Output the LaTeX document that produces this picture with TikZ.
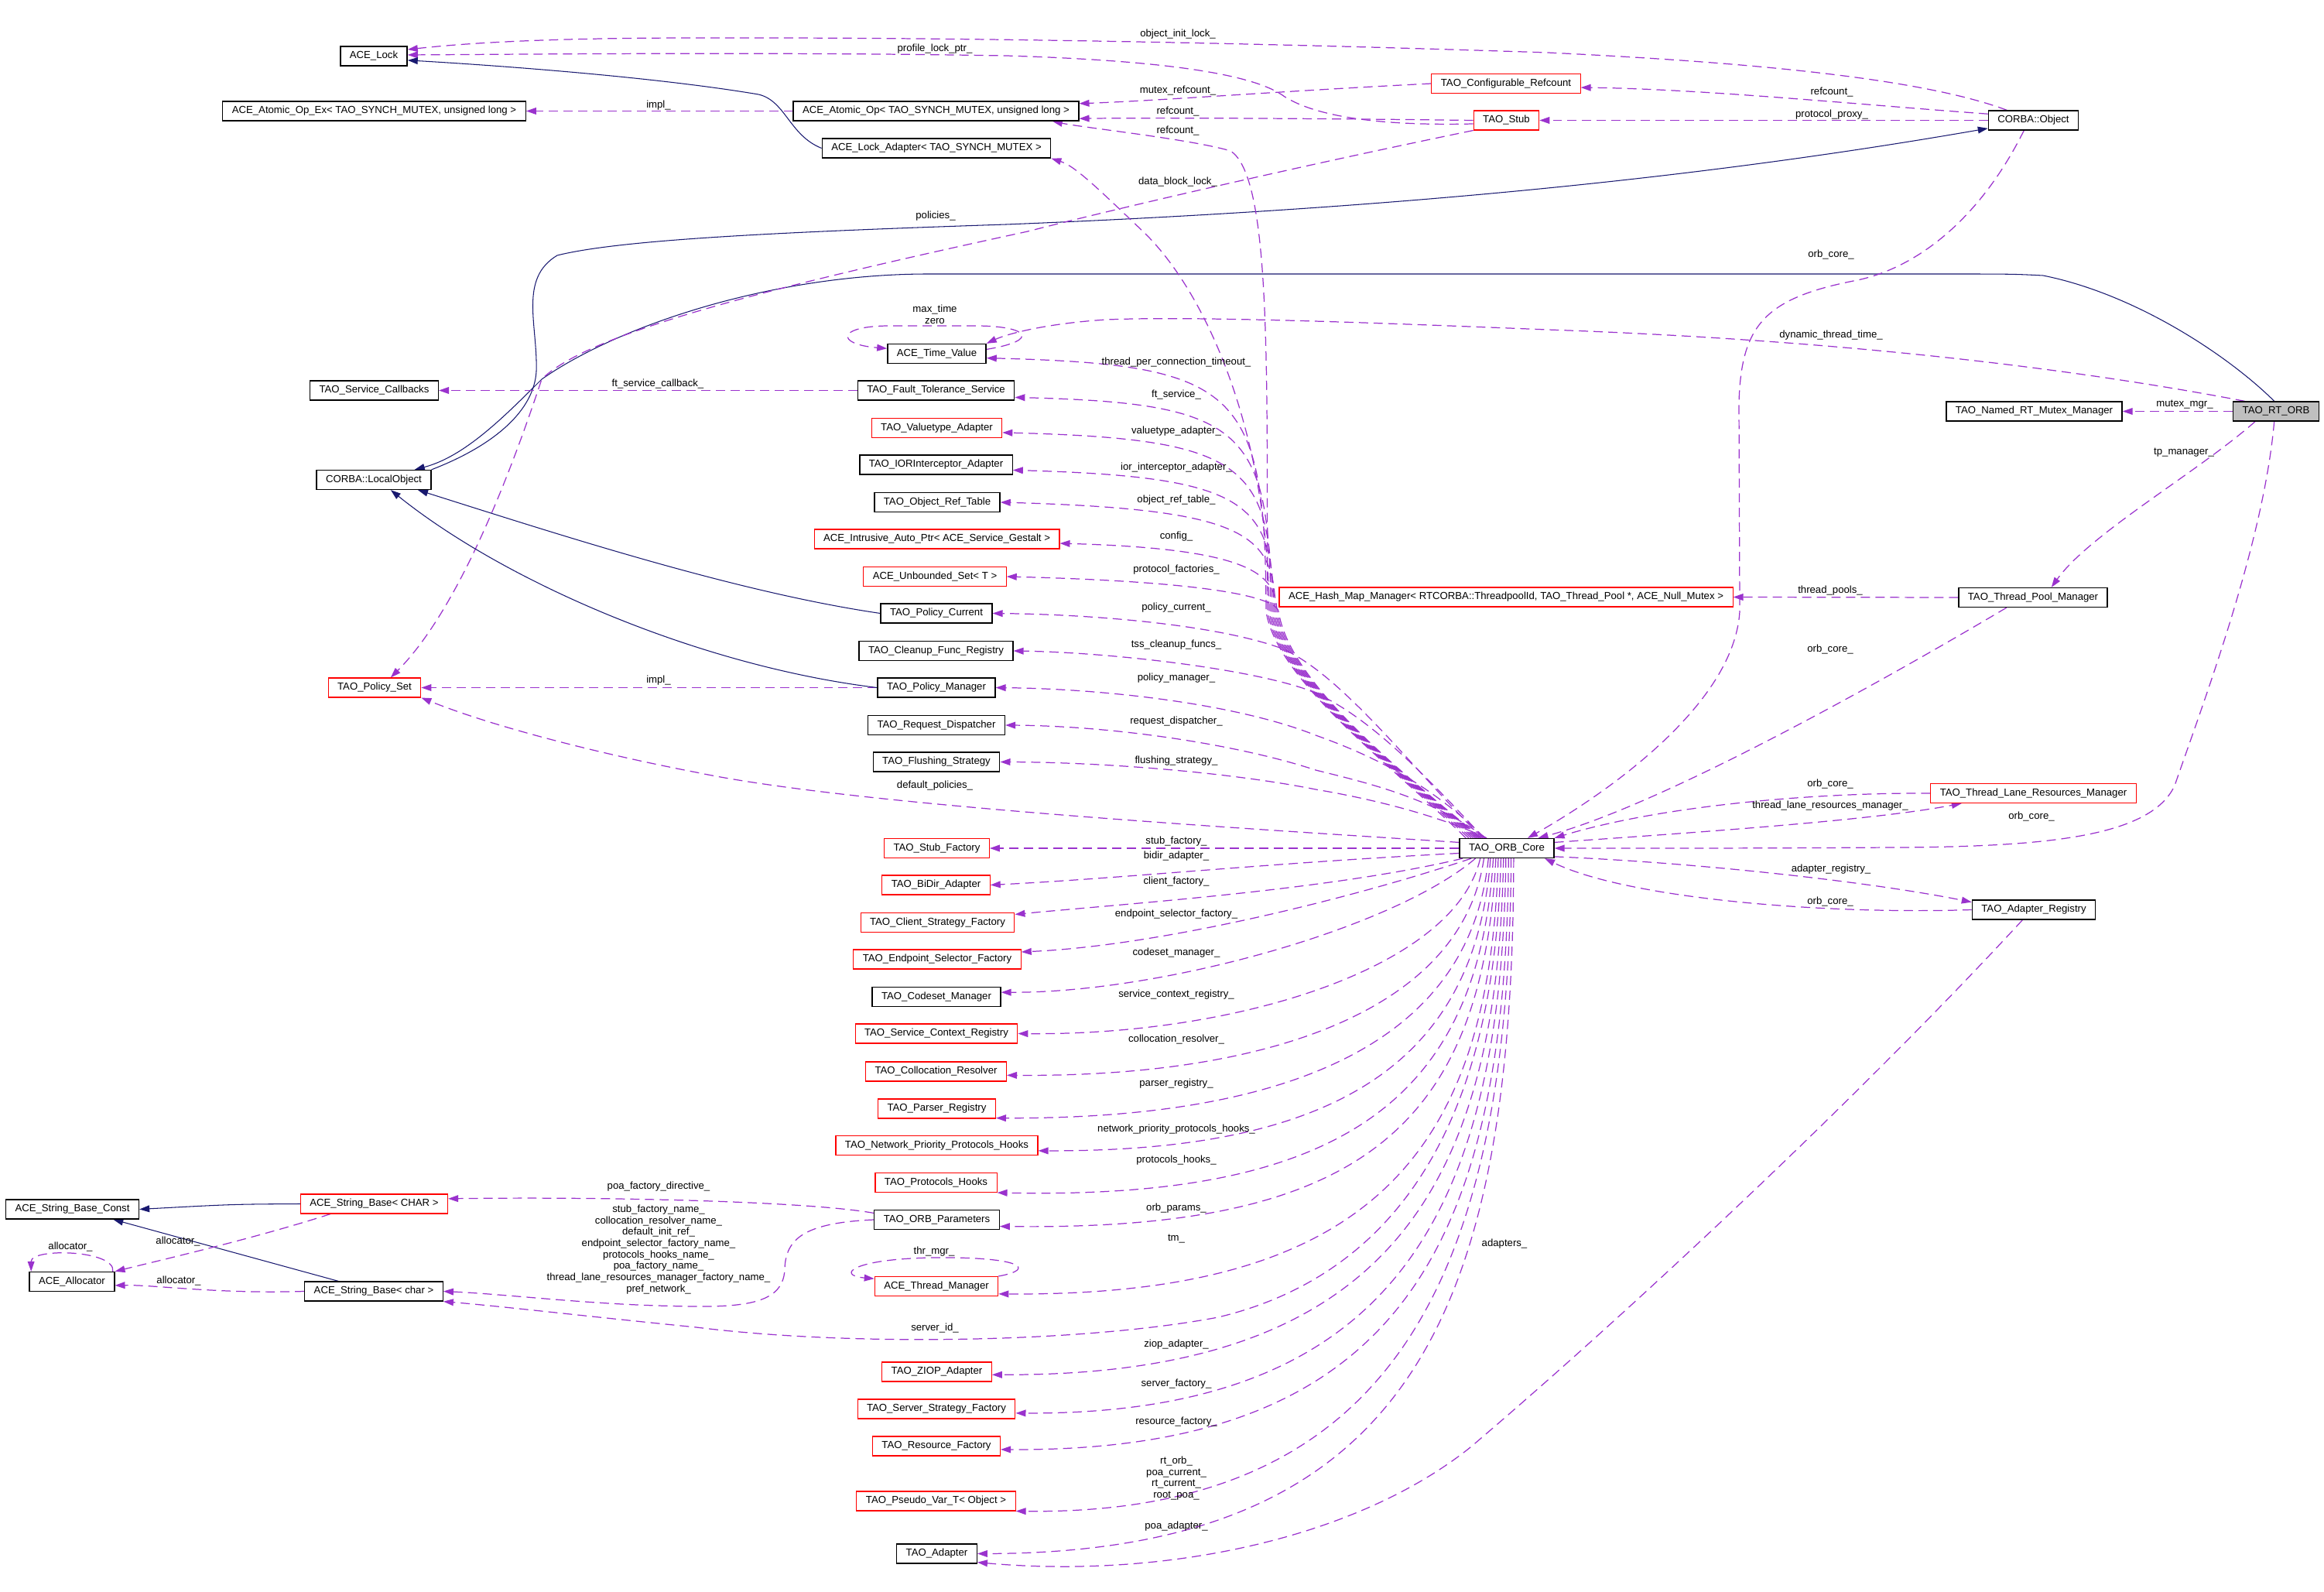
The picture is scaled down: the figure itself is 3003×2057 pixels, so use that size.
\documentclass[tikz,border=0pt]{standalone}
\usepackage{fontspec}
\setmainfont{Liberation Sans}
\usepackage{tikz}
\usetikzlibrary{arrows.meta, backgrounds}

\definecolor{usecol}{HTML}{9A32CD}
\definecolor{inhcol}{HTML}{191970}
\definecolor{undoc}{HTML}{FF0000}
\definecolor{rootgray}{HTML}{BFBFBF}

\tikzset{
  cls/.style={draw=black, line width=0.75pt, fill=white, minimum height=0.5cm, inner xsep=0.24cm, inner ysep=0pt, font=\fontsize{7.5}{8.35}\selectfont},
  ucls/.style={cls, draw=undoc, line width=0.6pt},
  lbl/.style={inner sep=0pt, align=center, font=\fontsize{7.5}{8.35}\selectfont},
  memb/.style={draw=usecol, line width=0.7pt, dash pattern=on 6.8pt off 4pt, -{Triangle[length=7.4pt, width=5pt]}},
  inh/.style={draw=inhcol, line width=0.6pt, -{Triangle[length=7.4pt, width=5pt]}},
}

\begin{document}
\begin{tikzpicture}[x=0.02cm, y=-0.02cm]
\useasboundingbox (0,0) rectangle (3003,2057);

% classes, top part
\node[cls] (lock) at (483,72.5) {ACE\_Lock};
\node[cls] (atomex) at (483.5,143.5) {ACE\_Atomic\_Op\_Ex< TAO\_SYNCH\_MUTEX, unsigned long >};
\node[cls] (atom) at (1209.5,143.5) {ACE\_Atomic\_Op< TAO\_SYNCH\_MUTEX, unsigned long >};
\node[cls] (lockad) at (1210,191.5) {ACE\_Lock\_Adapter< TAO\_SYNCH\_MUTEX >};
\node[ucls] (cfgref) at (1946,108) {TAO\_Configurable\_Refcount};
\node[ucls] (stub) at (1946.5,155.5) {TAO\_Stub};
\node[cls] (cobj) at (2627.5,155.5) {CORBA::Object};
\node[cls, fill=rootgray] (rtorb) at (2941,531.5) {TAO\_RT\_ORB};
\node[cls] (namedmx) at (2628.5,531.5) {TAO\_Named\_RT\_Mutex\_Manager};

% middle column, above the core
\node[cls] (timev) at (1210.5,457) {ACE\_Time\_Value};
\node[cls] (svccb) at (483.5,504.5) {TAO\_Service\_Callbacks};
\node[cls] (ftsvc) at (1209.5,504.5) {TAO\_Fault\_Tolerance\_Service};
\node[ucls] (valtype) at (1210.5,553) {TAO\_Valuetype\_Adapter};
\node[cls] (iorint) at (1209.5,600.5) {TAO\_IORInterceptor\_Adapter};
\node[cls] (lobj) at (483,620) {CORBA::LocalObject};
\node[cls] (objref) at (1211,649) {TAO\_Object\_Ref\_Table};
\node[ucls] (autoptr) at (1210.5,696.5) {ACE\_Intrusive\_Auto\_Ptr< ACE\_Service\_Gestalt >};
\node[ucls] (unbset) at (1208,745) {ACE\_Unbounded\_Set< T >};
\node[cls] (polcur) at (1210,792.5) {TAO\_Policy\_Current};
\node[cls] (cleanup) at (1209.5,841) {TAO\_Cleanup\_Func\_Registry};
\node[ucls] (polset) at (484,888.5) {TAO\_Policy\_Set};
\node[cls] (polmgr) at (1210,888.5) {TAO\_Policy\_Manager};
\node[cls] (reqdisp) at (1210,937) {TAO\_Request\_Dispatcher};
\node[cls] (flush) at (1210,984.5) {TAO\_Flushing\_Strategy};

% right side
\node[ucls] (hashmap) at (1946,771.5) {ACE\_Hash\_Map\_Manager< RTCORBA::ThreadpoolId, TAO\_Thread\_Pool *, ACE\_Null\_Mutex >};
\node[cls] (tpmgr) at (2627,772) {TAO\_Thread\_Pool\_Manager};
\node[ucls] (tlrm) at (2627.5,1025) {TAO\_Thread\_Lane\_Resources\_Manager};
\node[cls] (core) at (1947,1096) {TAO\_ORB\_Core};
\node[cls] (adreg) at (2628,1175.5) {TAO\_Adapter\_Registry};

% middle column, below the core
\node[ucls] (stubf) at (1210.5,1096) {TAO\_Stub\_Factory};
\node[ucls] (bidir) at (1209.5,1143.5) {TAO\_BiDir\_Adapter};
\node[ucls] (clistr) at (1211.5,1192) {TAO\_Client\_Strategy\_Factory};
\node[ucls] (endsel) at (1211,1239.5) {TAO\_Endpoint\_Selector\_Factory};
\node[cls] (codeset) at (1210,1288) {TAO\_Codeset\_Manager};
\node[ucls] (svcctx) at (1210,1335.5) {TAO\_Service\_Context\_Registry};
\node[ucls] (colloc) at (1209.5,1384.5) {TAO\_Collocation\_Resolver};
\node[ucls] (parser) at (1210.5,1432.5) {TAO\_Parser\_Registry};
\node[ucls] (netprio) at (1210.5,1480) {TAO\_Network\_Priority\_Protocols\_Hooks};
\node[ucls] (prothk) at (1209.5,1528) {TAO\_Protocols\_Hooks};
\node[cls] (orbpar) at (1210.5,1576) {TAO\_ORB\_Parameters};
\node[ucls] (thrmgr) at (1210,1662) {ACE\_Thread\_Manager};
\node[ucls] (ziop) at (1210.5,1772.5) {TAO\_ZIOP\_Adapter};
\node[ucls] (srvstr) at (1210,1820.5) {TAO\_Server\_Strategy\_Factory};
\node[ucls] (resfac) at (1210,1868.5) {TAO\_Resource\_Factory};
\node[ucls] (pseudo) at (1209.5,1939.5) {TAO\_Pseudo\_Var\_T< Object >};
\node[cls] (adapter) at (1210.5,2007.5) {TAO\_Adapter};

% strings, bottom left
\node[cls] (strconst) at (93.5,1562.5) {ACE\_String\_Base\_Const};
\node[ucls] (strtpl) at (483.5,1555.5) {ACE\_String\_Base< CHAR >};
\node[cls] (alloc) at (93,1656) {ACE\_Allocator};
\node[cls] (strchr) at (483,1668.5) {ACE\_String\_Base< char >};

% edge labels
\node[lbl] (l-oil) at (1522,44) {object\_init\_lock\_};
\node[lbl] (l-plp) at (1208,63) {profile\_lock\_ptr\_};
\node[lbl] (l-mrc) at (1522,117) {mutex\_refcount\_};
\node[lbl] (l-rcobj) at (2367,119) {refcount\_};
\node[lbl] (l-rcstub) at (1522,144) {refcount\_};
\node[lbl] (l-pp) at (2367,148) {protocol\_proxy\_};
\node[lbl] (l-impla) at (851,136) {impl\_};
\node[lbl] (l-rccore) at (1522,169) {refcount\_};
\node[lbl] (l-dbl) at (1522,235) {data\_block\_lock\_};
\node[lbl] (l-pol) at (1209,279) {policies\_};
\node[lbl] (l-ocobj) at (2366,329) {orb\_core\_};
\node[lbl] (l-mtz) at (1208,406) {max\_time\\zero};
\node[lbl] (l-dtt) at (2366,433) {dynamic\_thread\_time\_};
\node[lbl] (l-tpct) at (1520,468) {thread\_per\_connection\_timeout\_};
\node[lbl] (l-fsc) at (850,496) {ft\_service\_callback\_};
\node[lbl] (l-fs) at (1520,510) {ft\_service\_};
\node[lbl] (l-mm) at (2823,523) {mutex\_mgr\_};
\node[lbl] (l-va) at (1520,557) {valuetype\_adapter\_};
\node[lbl] (l-tpm) at (2822,585) {tp\_manager\_};
\node[lbl] (l-iia) at (1520,604) {ior\_interceptor\_adapter\_};
\node[lbl] (l-ort) at (1520,646) {object\_ref\_table\_};
\node[lbl] (l-cfg) at (1520,693) {config\_};
\node[lbl] (l-pf) at (1520,736) {protocol\_factories\_};
\node[lbl] (l-tp) at (2365,763) {thread\_pools\_};
\node[lbl] (l-pc) at (1520,785) {policy\_current\_};
\node[lbl] (l-tcf) at (1520,833) {tss\_cleanup\_funcs\_};
\node[lbl] (l-octpm) at (2365,839) {orb\_core\_};
\node[lbl] (l-pm) at (1520,876) {policy\_manager\_};
\node[lbl] (l-implb) at (851,879) {impl\_};
\node[lbl] (l-rd) at (1520,932) {request\_dispatcher\_};
\node[lbl] (l-fls) at (1520,983) {flushing\_strategy\_};
\node[lbl] (l-dp) at (1208,1015) {default\_policies\_};
\node[lbl] (l-octlrm) at (2365,1013) {orb\_core\_};
\node[lbl] (l-tlrm) at (2365,1041) {thread\_lane\_resources\_manager\_};
\node[lbl] (l-ocrt) at (2625,1055) {orb\_core\_};
\node[lbl] (l-sf) at (1520,1087) {stub\_factory\_};
\node[lbl] (l-ba) at (1520,1106) {bidir\_adapter\_};
\node[lbl] (l-ar) at (2366,1123) {adapter\_registry\_};
\node[lbl] (l-cf) at (1520,1139) {client\_factory\_};
\node[lbl] (l-ocreg) at (2365,1165) {orb\_core\_};
\node[lbl] (l-esf) at (1520,1181) {endpoint\_selector\_factory\_};
\node[lbl] (l-cm) at (1520,1231) {codeset\_manager\_};
\node[lbl] (l-scr) at (1520,1285) {service\_context\_registry\_};
\node[lbl] (l-cr) at (1520,1343) {collocation\_resolver\_};
\node[lbl] (l-pr) at (1520,1400) {parser\_registry\_};
\node[lbl] (l-nph) at (1520,1459) {network\_priority\_protocols\_hooks\_};
\node[lbl] (l-ph) at (1520,1499) {protocols\_hooks\_};
\node[lbl] (l-pfd) at (851,1533) {poa\_factory\_directive\_};
\node[lbl] (l-op) at (1520,1561) {orb\_params\_};
\node[lbl] (l-names) at (851,1614.5) {stub\_factory\_name\_\\collocation\_resolver\_name\_\\default\_init\_ref\_\\endpoint\_selector\_factory\_name\_\\protocols\_hooks\_name\_\\poa\_factory\_name\_\\thread\_lane\_resources\_manager\_factory\_name\_\\pref\_network\_};
\node[lbl] (l-alt) at (230,1604) {allocator\_};
\node[lbl] (l-alo) at (91,1611) {allocator\_};
\node[lbl] (l-alc) at (231,1655) {allocator\_};
\node[lbl] (l-tm) at (1520,1601) {tm\_};
\node[lbl] (l-thr) at (1207,1617) {thr\_mgr\_};
\node[lbl] (l-ad) at (1944,1607) {adapters\_};
\node[lbl] (l-sid) at (1208,1716) {server\_id\_};
\node[lbl] (l-za) at (1520,1737) {ziop\_adapter\_};
\node[lbl] (l-sfy) at (1520,1788) {server\_factory\_};
\node[lbl] (l-rf) at (1520,1837) {resource\_factory\_};
\node[lbl] (l-ro) at (1520,1910) {rt\_orb\_\\poa\_current\_\\rt\_current\_\\root\_poa\_};
\node[lbl] (l-pa) at (1520,1972) {poa\_adapter\_};

\begin{scope}[on background layer]
% top
\draw[memb] (cobj.159) .. controls (2480,100) and (2250,80) .. (2000,68) .. controls (1700,58) and (1300,48) .. (900,49) .. controls (700,49) and (600,56) .. (lock.11);
\draw[memb] (stub.186) .. controls (1780,163) and (1700,150) .. (1660,125) .. controls (1620,95) and (1500,78) .. (1300,72) .. controls (1000,67) and (700,70) .. (lock.2);
\draw[memb] (cobj.172) .. controls (2400,135) and (2200,115) .. (cfgref.-3);
\draw[memb] (cobj.west) -- (stub.east);
\draw[memb] (cfgref.west) .. controls (1650,118) and (1500,130) .. (atom.3);
\draw[memb] (stub.west) .. controls (1700,153) and (1500,152) .. (atom.-3);
\draw[memb] (atom.west) -- (atomex.east);
\draw[inh] (lockad.west) .. controls (1020,175) and (1015,130) .. (980,122) .. controls (850,100) and (650,85) .. (lock.-7);
\draw[inh] (lobj.10) .. controls (640,575) and (690,530) .. (693,480) .. controls (695,420) and (670,360) .. (720,330) .. controls (800,310) and (1000,300) .. (1300,290) .. controls (1800,270) and (2200,230) .. (cobj.190);
\draw[inh] (rtorb.100) .. controls (2880,460) and (2760,380) .. (2640,356) .. controls (2600,354) .. (2500,354) -- (1200,354) .. controls (1000,354) and (800,420) .. (700,490) .. controls (650,540) and (600,590) .. (lobj.14);
\draw[memb] (stub.south west) .. controls (1750,200) and (1500,255) .. (1328,299) .. controls (1000,370) and (760,430) .. (700,490) .. controls (670,580) and (600,780) .. (polset.32);

% rt orb
\draw[memb] (rtorb.west) -- (namedmx.east);
\draw[memb] (rtorb.206) .. controls (2840,610) and (2700,690) .. (tpmgr.29);
\draw[memb] (rtorb.162) .. controls (2700,480) and (2400,440) .. (2000,426) .. controls (1800,418) and (1550,408) .. (1430,413) .. controls (1350,418) and (1300,432) .. (timev.north east);
\draw[memb] (rtorb.-100) .. controls (2925,700) and (2850,900) .. (2810,1015) .. controls (2780,1080) and (2650,1094) .. (2450,1095) .. controls (2250,1096) .. (core.east);
\draw[memb] (cobj.227) .. controls (2560,280) and (2480,345) .. (2400,362) .. controls (2280,385) and (2250,420) .. (2247,520) -- (2248,790) .. controls (2240,920) and (2050,1040) .. (core.26);

% right side
\draw[memb] (tpmgr.west) -- (hashmap.east);
\draw[memb] (tpmgr.201) .. controls (2450,870) and (2150,1040) .. (core.18);
\draw[memb] (tlrm.west) .. controls (2350,1024) and (2150,1040) .. (core.north east);
\draw[memb] (core.7) .. controls (2200,1075) and (2420,1060) .. (tlrm.188);
\draw[memb] (core.-10) .. controls (2200,1115) and (2420,1140) .. (adreg.173);
\draw[memb] (adreg.west) .. controls (2350,1182) and (2100,1160) .. (core.-15);
\draw[memb] (adreg.222) .. controls (2400,1420) and (2100,1700) .. (1900,1870) .. controls (1750,1990) and (1500,2040) .. (adapter.-12);

% core, upwards
\draw[memb] (core.166) .. controls (1800,990) and (1650,880) .. (1636,790) .. controls (1635,503) and (1601,471) .. (timev.-5);
\draw[memb] (core.165) .. controls (1800,990) and (1652,880) .. (1638,790) .. controls (1636,500) and (1645,230) .. (1590,195) .. controls (1540,180) and (1400,165) .. (atom.-5);
\draw[memb] (core.164) .. controls (1800,990) and (1654,880) .. (1640,790) .. controls (1638,560) and (1560,380) .. (1478,300) .. controls (1420,245) and (1390,215) .. (lockad.south east);
\draw[memb] (core.163) .. controls (1800,990) and (1656,880) .. (1642,790) .. controls (1641,553) and (1607,521) .. (ftsvc.-5);
\draw[memb] (core.162) .. controls (1800,990) and (1658,880) .. (1644,790) .. controls (1643,599) and (1609,567) .. (valtype.-4);
\draw[memb] (core.161) .. controls (1800,990) and (1660,880) .. (1646,790) .. controls (1645,648) and (1611,616) .. (iorint.-4);
\draw[memb] (core.160) .. controls (1800,990) and (1662,880) .. (1648,790) .. controls (1647,690) and (1613,658) .. (objref.east);
\draw[memb] (core.159) .. controls (1800,990) and (1664,880) .. (1650,790) .. controls (1649,741) and (1615,709) .. (autoptr.-2);
\draw[memb] (core.158) .. controls (1800,990) and (1666,880) .. (1652,790) .. controls (1651,780) and (1617,753) .. (unbset.east);
\draw[memb] (core.157) .. controls (1830,1000) and (1730,865) .. (1651,836) .. controls (1570,808) and (1420,794) .. (polcur.east);
\draw[memb] (core.156) .. controls (1840,1000) and (1760,915) .. (1683,889) .. controls (1600,862) and (1430,843) .. (cleanup.east);
\draw[memb] (core.155) .. controls (1845,1010) and (1770,975) .. (1700,950) .. controls (1600,910) and (1430,890) .. (polmgr.east);
\draw[memb] (core.154) .. controls (1850,1030) and (1760,1010) .. (1700,995) .. controls (1600,962) and (1440,938) .. (reqdisp.east);
\draw[memb] (core.153) .. controls (1850,1050) and (1760,1030) .. (1700,1020) .. controls (1600,1000) and (1440,985) .. (flush.east);
\draw[memb] (core.173) .. controls (1600,1070) and (1100,1040) .. (900,998) .. controls (780,975) and (640,940) .. (polset.south east);

% core, downwards
\draw[memb] (core.west) -- (stubf.east);
\draw[memb] (core.186) .. controls (1640,1115) and (1450,1135) .. (bidir.east);
\draw[memb] (core.193) .. controls (1720,1150) and (1450,1168) .. (clistr.6);
\draw[memb] (core.196) .. controls (1750,1160) and (1500,1222) .. (endsel.5);
\draw[memb] (core.198) .. controls (1800,1200) and (1500,1283) .. (codeset.4);
\draw[memb] (core.201) .. controls (1880,1250) and (1600,1338) .. (svcctx.east);
\draw[memb] (core.204) .. controls (1890,1300) and (1650,1392) .. (colloc.-3);
\draw[memb] (core.209) .. controls (1900,1340) and (1680,1446) .. (parser.-9);
\draw[memb] (core.212) .. controls (1905,1390) and (1700,1488) .. (netprio.-3);
\draw[memb] (core.217) .. controls (1910,1430) and (1720,1550) .. (prothk.south east);
\draw[memb] (core.223) .. controls (1915,1470) and (1740,1590) .. (orbpar.-6);
\draw[memb] (core.230) .. controls (1925,1500) and (1760,1675) .. (thrmgr.-7);
\draw[memb] (core.240) .. controls (1930,1520) and (1750,1660) .. (1574,1702) .. controls (1400,1735) and (1100,1740) .. (900,1715) .. controls (750,1700) and (650,1688) .. (strchr.south east);
\draw[memb] (core.252) .. controls (1935,1550) and (1780,1778) .. (ziop.-3);
\draw[memb] (core.265) .. controls (1940,1580) and (1790,1828) .. (srvstr.-3);
\draw[memb] (core.280) .. controls (1945,1620) and (1800,1876) .. (resfac.-3);
\draw[memb] (core.293) .. controls (1950,1650) and (1800,1958) .. (pseudo.south east);
\draw[memb] (core.304) .. controls (1955,1700) and (1820,2006) .. (adapter.east);

% left side
\draw[memb] (ftsvc.west) -- (svccb.east);
\draw[memb] (polmgr.west) -- (polset.east);
\draw[inh] (polcur.west) .. controls (950,765) and (720,690) .. (lobj.-13);
\draw[inh] (polmgr.west) .. controls (900,860) and (650,750) .. (lobj.-31);
\draw[memb] (timev.5) .. controls (1345,440) and (1330,421) .. (1260,421) -- (1150,421) .. controls (1080,421) and (1080,445) .. (timev.174);
\draw[memb] (thrmgr.north east) .. controls (1340,1640) and (1320,1624) .. (1210,1625) .. controls (1100,1626) and (1080,1648) .. (thrmgr.173);
\draw[memb] (orbpar.174) .. controls (1050,1553) and (800,1546) .. (strtpl.4);
\draw[memb] (orbpar.west) .. controls (1040,1580) and (1015,1600) .. (1014,1640) .. controls (1012,1690) and (950,1690) .. (850,1687) .. controls (750,1684) and (650,1672) .. (strchr.east);

% strings
\draw[inh] (strtpl.west) .. controls (300,1556) .. (strconst.east);
\draw[inh] (strchr.164) -- (strconst.-14);
\draw[memb] (strtpl.193) .. controls (330,1600) and (200,1630) .. (alloc.north east);
\draw[memb] (strchr.west) .. controls (280,1672) and (200,1660) .. (alloc.-5);
\draw[memb] (alloc.14) .. controls (150,1615) and (40,1612) .. (alloc.166);
\end{scope}
\end{tikzpicture}
\end{document}
